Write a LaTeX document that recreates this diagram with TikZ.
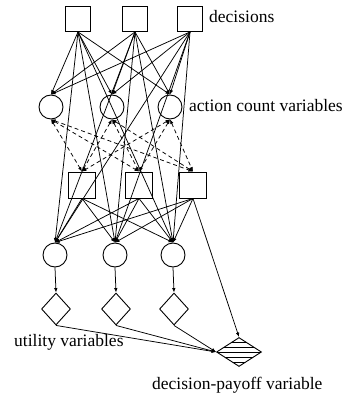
\documentclass[tikz,border=0pt]{standalone}
\usepackage{fontspec}
\setmainfont{Liberation Serif}
\usetikzlibrary{shapes.geometric,arrows.meta}
\begin{document}
\begin{tikzpicture}[x=1pt,y=-1pt,
  sq/.style={draw,line width=0.9pt,minimum width=25pt,minimum height=25pt,inner sep=0pt},
  sqb/.style={draw,line width=0.9pt,minimum width=27pt,minimum height=26pt,inner sep=0pt},
  circ/.style={draw,line width=0.9pt,circle,minimum size=24pt,inner sep=0pt},
  dia/.style={draw,line width=0.9pt,diamond,minimum width=29pt,minimum height=32pt,inner sep=0pt},
  arr/.style={line width=0.75pt,-{Latex[length=4.5pt,width=3.5pt]}},
  darr/.style={line width=0.75pt,dashed,dash pattern=on 4pt off 3pt,{Latex[length=4.5pt,width=3.5pt]}-{Latex[length=4.5pt,width=3.5pt]}},
  lbl/.style={font=\fontsize{17.5}{20}\selectfont,inner sep=0pt,anchor=west}]
\useasboundingbox (0,0) rectangle (352,398);
% top decisions
\node[sq] (D1) at (78,19) {};
\node[sq] (D2) at (135,19) {};
\node[sq] (D3) at (190,19) {};
% action count variables
\node[circ] (C1) at (51,107) {};
\node[circ] (C2) at (112,107) {};
\node[circ] (C3) at (170,107) {};
% second decisions
\node[sqb] (E1) at (82,185) {};
\node[sqb] (E2) at (139,185) {};
\node[sqb] (E3) at (193,185) {};
% second action counts
\node[circ] (F1) at (55,255) {};
\node[circ] (F2) at (115,255) {};
\node[circ] (F3) at (173,255) {};
% utility variables
\node[dia] (U1) at (56,309) {};
\node[dia] (U2) at (116,309) {};
\node[dia] (U3) at (174,309) {};
% decision-payoff variable
\node[draw,line width=0.9pt,diamond,minimum width=45pt,minimum height=29pt,inner sep=0pt,
  path picture={\foreach \k in {-2,...,2}
    \draw[line width=0.7pt] ([yshift=\k*5pt]path picture bounding box.west) -- ++(50pt,0);}] (P) at (239,352) {};
% labels
\node[lbl] (ld) at (209,17) {decisions};
\node[lbl] (la) at (189,106) {action count variables};
\node[lbl] (lu) at (14,342) {utility variables};
\node[lbl] (lp) at (152,385) {decision-payoff variable};
% edges
\foreach \d in {D1,D2,D3}{
  \foreach \c in {C1,C2,C3}{ \draw[arr] (\d.south) -- (\c.north); }
  \foreach \f in {F1,F2,F3}{ \draw[arr] (\d.south) -- (\f.north); }
}
\foreach \c in {C1,C2,C3}{
  \foreach \e in {E1,E2,E3}{ \draw[darr] (\c.south) -- (\e.north); }
}
\foreach \e in {E1,E2,E3}{
  \foreach \f in {F1,F2,F3}{ \draw[arr] (\e.south) -- (\f.north); }
}
\draw[arr] (F1.south) -- (U1.north);
\draw[arr] (F2.south) -- (U2.north);
\draw[arr] (F3.south) -- (U3.north);
\draw[arr] (E3.south) -- (P.north);
\draw[arr] (U1.south) -- (P.west);
\draw[arr] (U2.south) -- (P.west);
\draw[arr] (U3.south) -- (P.west);
\end{tikzpicture}
\end{document}
